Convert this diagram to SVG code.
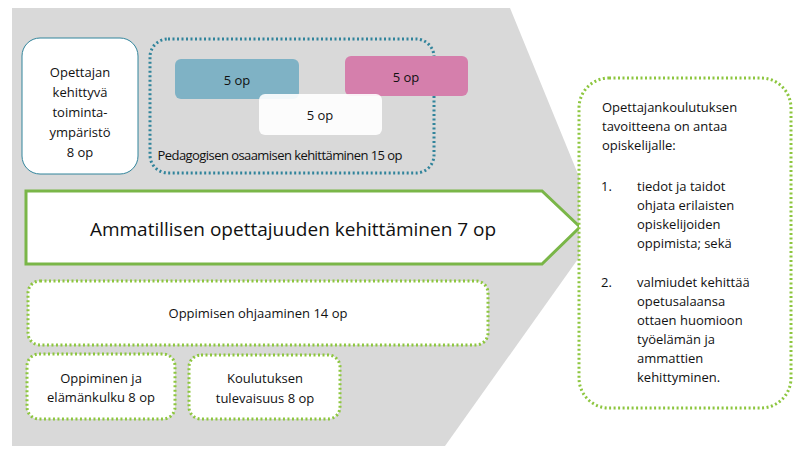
<svg xmlns="http://www.w3.org/2000/svg" width="806" height="460" viewBox="0 0 806 460">
<style>
text{font-family:"Open Sans","Liberation Sans",sans-serif;fill:#111;font-size:13px}
.c{text-anchor:middle}
.gd{fill:#fff;stroke:#8dc63f;stroke-width:3;stroke-dasharray:2 2.5}
</style>
<rect width="806" height="460" fill="#fff"/>
<polygon id="bg" points="12,8 510,8 600,228 445,446 12,446" fill="#d9d9d9"/>
<g id="n1"><rect x="22" y="38" width="116" height="136" rx="18" fill="#fff" stroke="#31849b" stroke-width="1"/>
<text class="c" x="80" y="77">Opettajan</text><text class="c" x="80" y="97">kehittyvä</text><text class="c" x="80" y="117">toiminta-</text><text class="c" x="80" y="137">ympäristö</text><text class="c" x="80" y="157">8 op</text></g>
<g id="n2"><rect x="150" y="39" width="284" height="134" rx="18" fill="none" stroke="#31849b" stroke-width="3" stroke-dasharray="2 2.5"/>
<rect x="175" y="59" width="124" height="40" rx="6" fill="#7fb2c5"/>
<rect x="345" y="56" width="123" height="40" rx="6" fill="#d57fac"/>
<rect x="259" y="94" width="123" height="41" rx="6" fill="#fff" fill-opacity="0.9"/>
<text class="c" x="237" y="85">5 op</text><text class="c" x="406" y="82">5 op</text><text class="c" x="320" y="120">5 op</text>
<text class="c" x="280" y="160" textLength="245">Pedagogisen osaamisen kehittäminen 15 op</text></g>
<g id="n3"><polygon points="26,191 542,191 580,227 542,264 26,264" fill="#fff" stroke="#7ab648" stroke-width="3"/>
<text class="c" x="293" y="236" style="font-size:19px">Ammatillisen opettajuuden kehittäminen 7 op</text></g>
<g id="n4"><rect class="gd" x="28" y="281" width="460" height="64" rx="12"/><text class="c" x="258" y="318">Oppimisen ohjaaminen 14 op</text></g>
<g id="n5"><rect class="gd" x="27" y="354" width="148" height="65" rx="12"/><text class="c" x="101" y="383">Oppiminen ja</text><text class="c" x="101" y="402">elämänkulku 8 op</text></g>
<g id="n6"><rect class="gd" x="189" y="355" width="151" height="64" rx="12"/><text class="c" x="265" y="383">Koulutuksen</text><text class="c" x="265" y="403">tulevaisuus 8 op</text></g>
<g id="n7"><rect class="gd" x="579" y="78" width="212" height="330" rx="30"/>
<text x="602" y="112">Opettajankoulutuksen</text><text x="602" y="131">tavoitteena on antaa</text><text x="602" y="150">opiskelijalle:</text>
<text x="601" y="191">1.</text><text x="637" y="191">tiedot ja taidot</text><text x="637" y="210">ohjata erilaisten</text><text x="637" y="229">opiskelijoiden</text><text x="637" y="248">oppimista; sekä</text>
<text x="601" y="287">2.</text><text x="637" y="287">valmiudet kehittää</text><text x="637" y="306">opetusalaansa</text><text x="637" y="325">ottaen huomioon</text><text x="637" y="344">työelämän ja</text><text x="637" y="363">ammattien</text><text x="637" y="382">kehittyminen.</text></g>
<g id="connectors"/>
</svg>
